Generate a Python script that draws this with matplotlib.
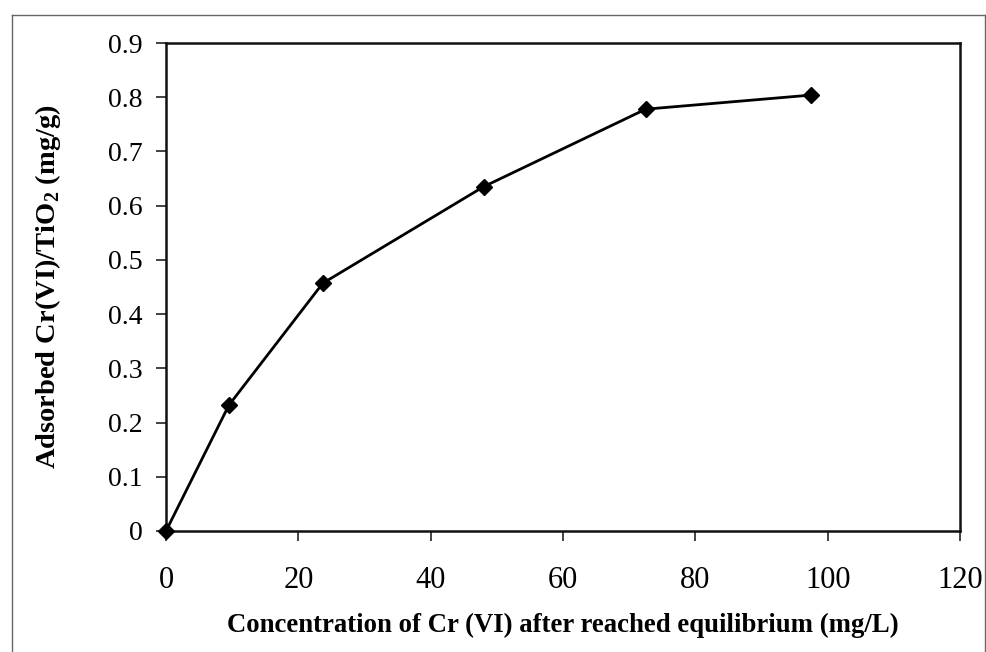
import matplotlib
matplotlib.use("Agg")
import matplotlib.pyplot as plt
from matplotlib.lines import Line2D

# Adsorption isotherm of Cr(VI) on TiO2
conc_eq = [0, 9.5, 23.7, 48.0, 72.5, 97.5]          # mg/L
adsorbed = [0.0, 0.232, 0.457, 0.635, 0.778, 0.804]  # mg/g

x_ticks = [0, 20, 40, 60, 80, 100, 120]
y_ticks = [0, 0.1, 0.2, 0.3, 0.4, 0.5, 0.6, 0.7, 0.8, 0.9]
y_tick_labels = ["0", "0.1", "0.2", "0.3", "0.4", "0.5", "0.6", "0.7", "0.8", "0.9"]

plt.rcParams["font.family"] = ["Liberation Serif", "DejaVu Serif"]
plt.rcParams["mathtext.fontset"] = "custom"
plt.rcParams["mathtext.bf"] = "Liberation Serif:bold"
plt.rcParams["mathtext.rm"] = "Liberation Serif"

fig = plt.figure(figsize=(9.87, 6.52), dpi=100)
ax = fig.add_axes([0.1682, 0.1856, 0.8044, 0.7484])

ax.plot(conc_eq, adsorbed, color="black", lw=2.0, marker="D",
        markersize=8.5, markerfacecolor="black", markeredgecolor="black",
        clip_on=False, zorder=3)

ax.set_xlim(0, 120)
ax.set_ylim(0, 0.9)
ax.set_xticks(x_ticks)
ax.set_yticks(y_ticks)
ax.set_yticklabels(y_tick_labels)
ax.tick_params(axis="both", direction="out", length=7, width=1.2,
               color="#222222")
ax.tick_params(axis="y", pad=10, labelsize=20)
ax.tick_params(axis="x", pad=18, labelsize=22)
for s in ax.spines.values():
    s.set_linewidth(1.8)
    s.set_color("#111111")

ax.set_xlabel("Concentration of Cr (VI) after reached equilibrium (mg/L)",
              fontsize=19.3, fontweight="bold", labelpad=13)
ax.set_ylabel(r"Adsorbed Cr(VI)/TiO$_\mathbf{2}$ (mg/g)",
              fontsize=20.5, fontweight="bold", labelpad=32)

# Outer chart frame
W, H = 987, 652
fx0, fx1, fy0 = 12 / W, 985 / W, 1 - 15 / H
for xs, ys in [([fx0, fx0], [0, fy0]), ([fx0, fx1], [fy0, fy0]), ([fx1, fx1], [fy0, 0])]:
    fig.add_artist(Line2D(xs, ys, transform=fig.transFigure, color="#666666", lw=1.0))

fig.savefig("out.png", dpi=100)
